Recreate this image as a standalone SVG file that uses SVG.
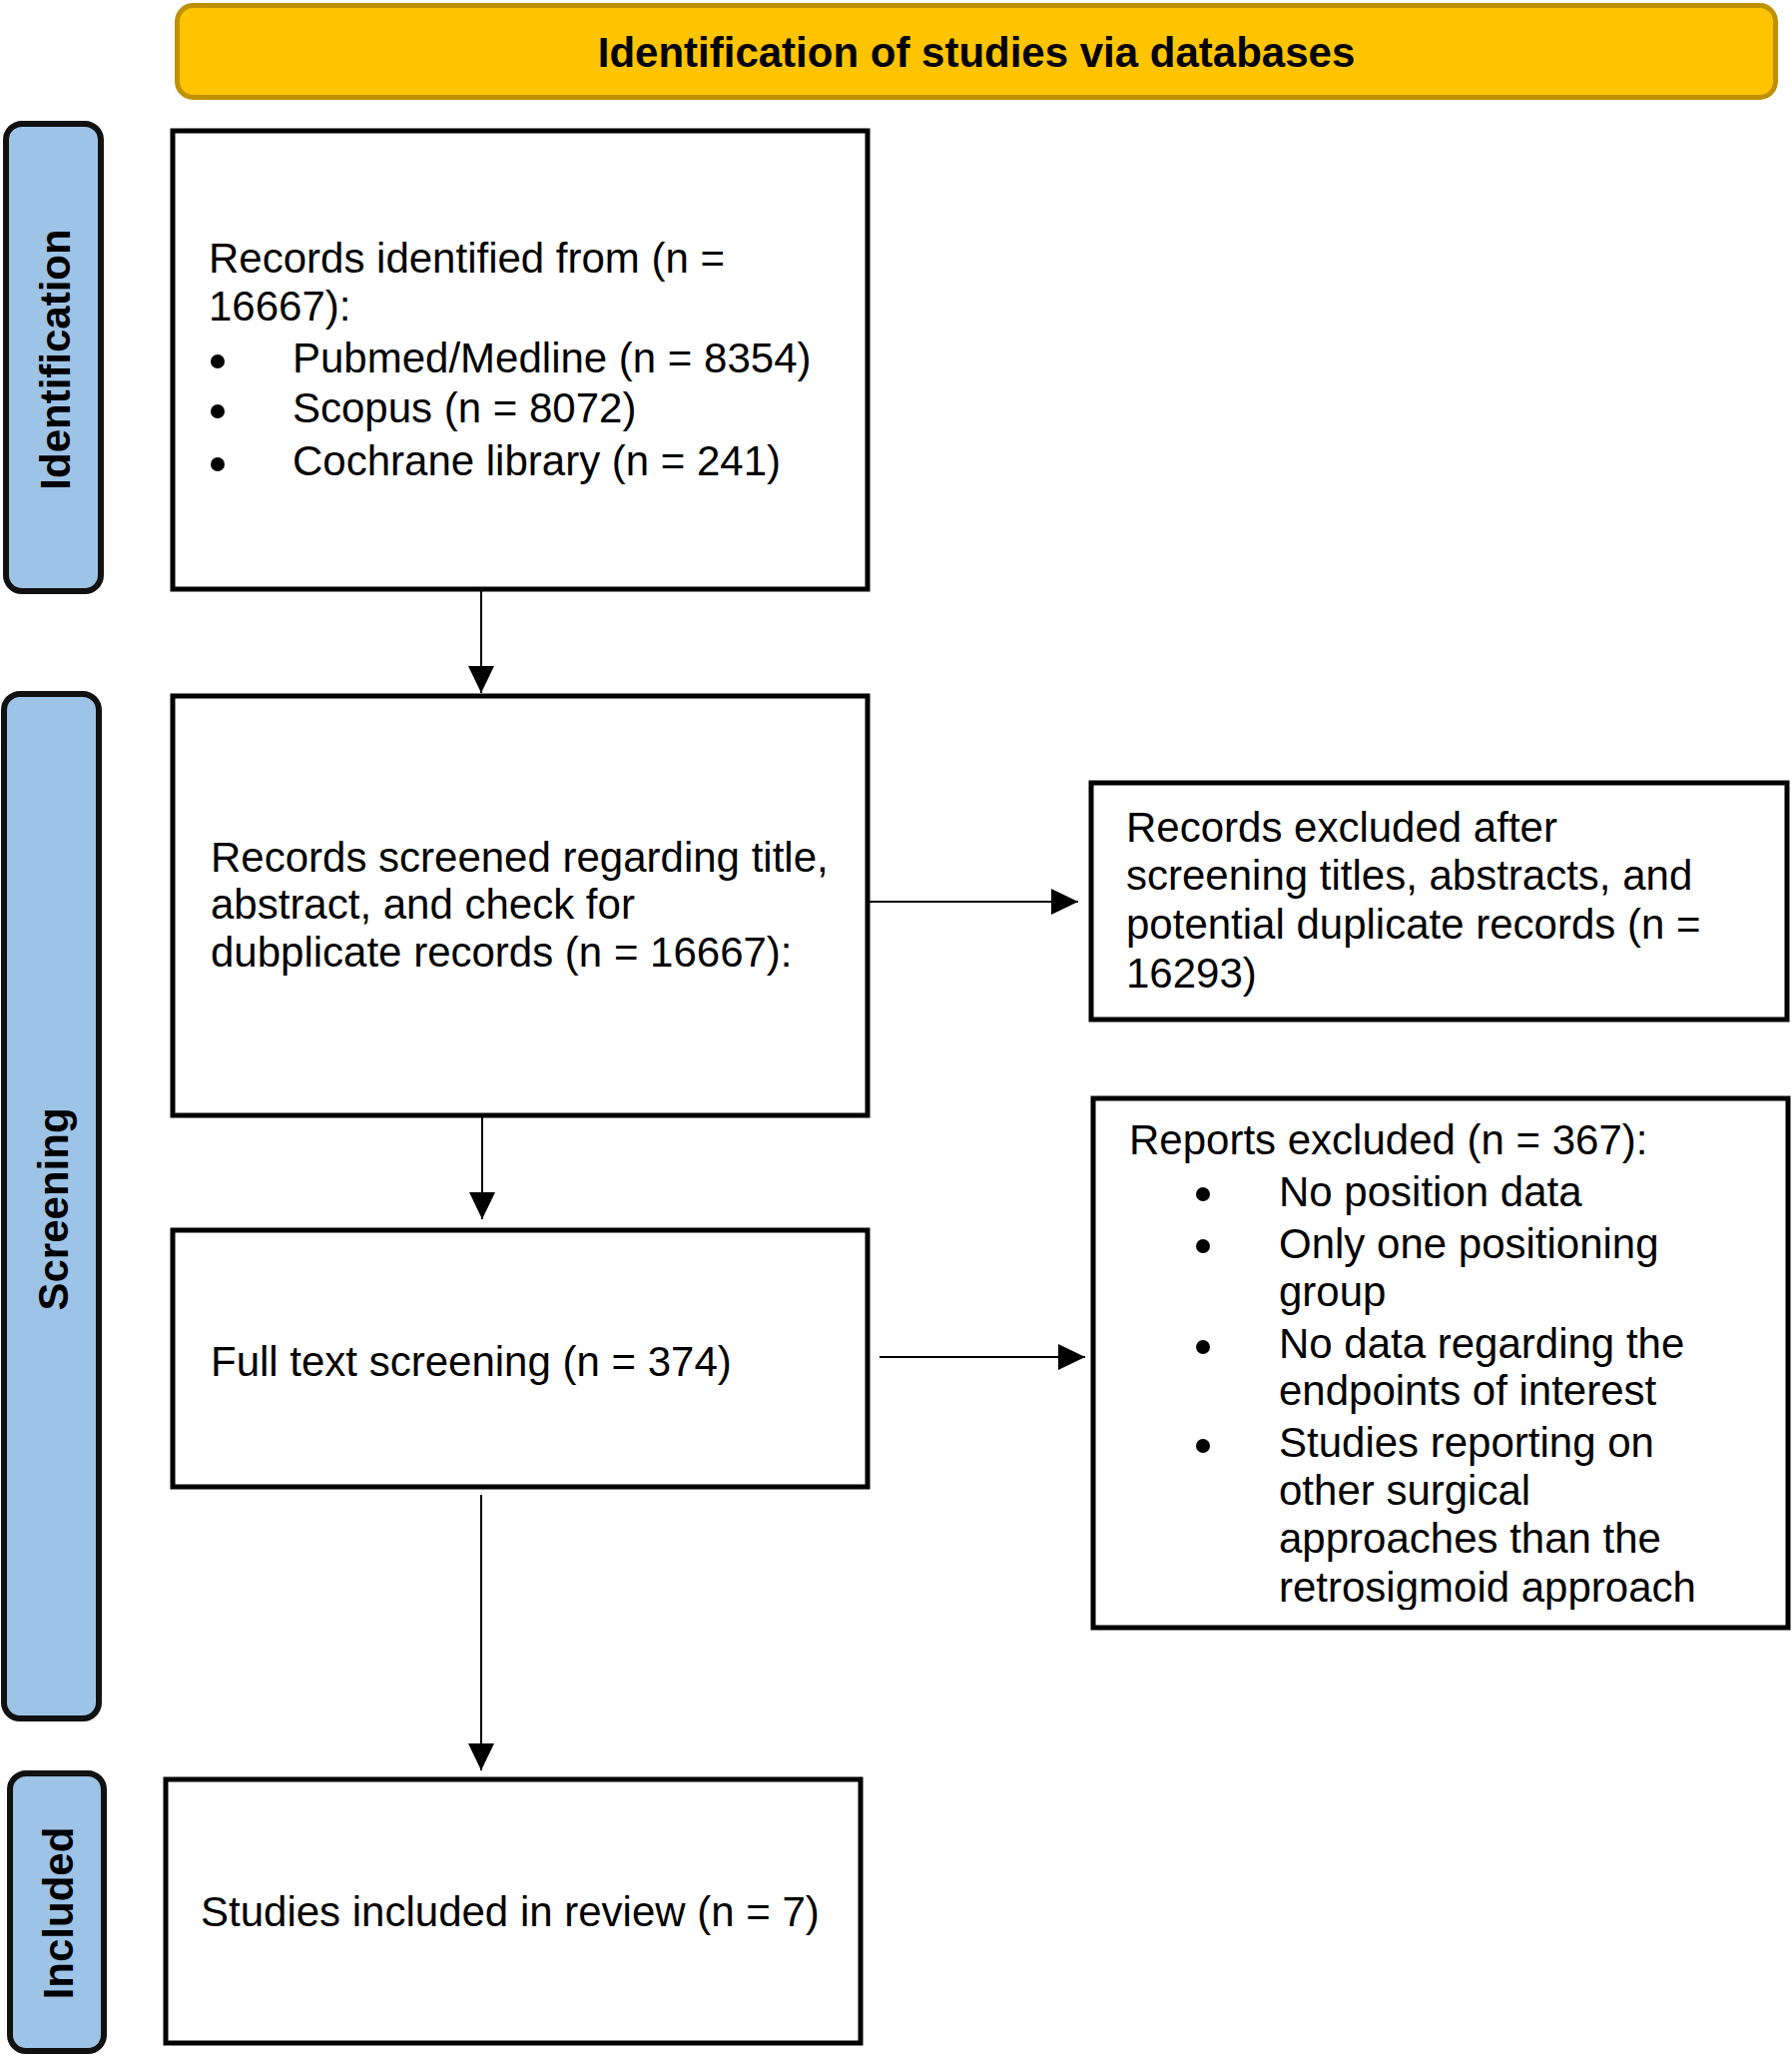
<svg xmlns="http://www.w3.org/2000/svg" width="1795" height="2059" viewBox="0 0 1795 2059">
<style>
.box{fill:#ffffff;stroke:#000000;stroke-width:5}
.side{fill:#9DC3E6;stroke:#111111;stroke-width:6}
.hdr{fill:#FFC400;stroke:#BF9000;stroke-width:5}
.t{font-family:"Liberation Sans",Arial,sans-serif;font-size:42px;fill:#000000}
.b{font-family:"Liberation Sans",Arial,sans-serif;font-size:42px;font-weight:bold;fill:#000000}
.c{stroke:#000000;stroke-width:2;fill:none}
.dot{fill:#000000}
</style>
<defs>
<marker id="ah2" viewBox="0 0 27 26" refX="27" refY="13" markerWidth="27" markerHeight="26" markerUnits="userSpaceOnUse" orient="auto">
<path d="M0,0 L27,13 L0,26 z" fill="#000000"/>
</marker>
<clipPath id="clipR2"><rect x="1095" y="1100" width="696" height="512"/></clipPath>
</defs>

<g id="header">
<rect class="hdr" x="177.5" y="5.5" width="1601" height="92" rx="16" ry="16"/>
<text class="b" x="978" y="67" text-anchor="middle">Identification of studies via databases</text>
</g>

<g id="side-identification">
<rect class="side" x="6" y="124" width="95" height="468" rx="16" ry="16"/>
<text class="b" transform="translate(70,360) rotate(-90)" text-anchor="middle">Identification</text>
</g>
<g id="side-screening">
<rect class="side" x="4" y="695" width="95" height="1026" rx="16" ry="16"/>
<text class="b" transform="translate(68,1211) rotate(-90)" text-anchor="middle">Screening</text>
</g>
<g id="side-included">
<rect class="side" x="10" y="1776" width="94" height="278" rx="16" ry="16"/>
<text class="b" transform="translate(73,1916) rotate(-90)" text-anchor="middle">Included</text>
</g>

<g id="records-identified">
<rect class="box" x="173" y="131" width="696" height="459"/>
<text class="t" x="209" y="273">Records identified from (n =</text>
<text class="t" x="209" y="321">16667):</text>
<circle class="dot" cx="218" cy="362" r="7"/>
<text class="t" x="293" y="373">Pubmed/Medline (n = 8354)</text>
<circle class="dot" cx="218" cy="412" r="7"/>
<text class="t" x="293" y="423">Scopus (n = 8072)</text>
<circle class="dot" cx="218" cy="465" r="7"/>
<text class="t" x="293" y="476">Cochrane library (n = 241)</text>
</g>

<g id="records-screened">
<rect class="box" x="173" y="697" width="696" height="420"/>
<text class="t" x="211" y="873">Records screened regarding title,</text>
<text class="t" x="211" y="920">abstract, and check for</text>
<text class="t" x="211" y="968">dubplicate records (n = 16667):</text>
</g>

<g id="full-text">
<rect class="box" x="173" y="1232" width="696" height="257"/>
<text class="t" x="211" y="1378">Full text screening (n = 374)</text>
</g>

<g id="included">
<rect class="box" x="166" y="1782" width="696" height="264"/>
<text class="t" x="201" y="1929">Studies included in review (n = 7)</text>
</g>

<g id="records-excluded">
<rect class="box" x="1093" y="784" width="697" height="237"/>
<text class="t" x="1128" y="843">Records excluded after</text>
<text class="t" x="1128" y="891">screening titles, abstracts, and</text>
<text class="t" x="1128" y="940">potential duplicate records (n =</text>
<text class="t" x="1128" y="989">16293)</text>
</g>

<g id="reports-excluded">
<rect class="box" x="1095" y="1100" width="696" height="530"/>
<g clip-path="url(#clipR2)">
<text class="t" x="1131" y="1156">Reports excluded (n = 367):</text>
<circle class="dot" cx="1205" cy="1196" r="7"/>
<text class="t" x="1281" y="1208">No position data</text>
<circle class="dot" cx="1205" cy="1248" r="7"/>
<text class="t" x="1281" y="1260">Only one positioning</text>
<text class="t" x="1281" y="1308">group</text>
<circle class="dot" cx="1205" cy="1349" r="7"/>
<text class="t" x="1281" y="1360">No data regarding the</text>
<text class="t" x="1281" y="1407">endpoints of interest</text>
<circle class="dot" cx="1205" cy="1448" r="7"/>
<text class="t" x="1281" y="1459">Studies reporting on</text>
<text class="t" x="1281" y="1507">other surgical</text>
<text class="t" x="1281" y="1555">approaches than the</text>
<text class="t" x="1281" y="1604">retrosigmoid approach</text>
</g>
</g>

<g id="connectors">
<line class="c" x1="482" y1="592" x2="482" y2="694" marker-end="url(#ah2)"/>
<line class="c" x1="483" y1="1119" x2="483" y2="1221" marker-end="url(#ah2)"/>
<line class="c" x1="482" y1="1497" x2="482" y2="1773" marker-end="url(#ah2)"/>
<line class="c" x1="871" y1="903" x2="1080" y2="903" marker-end="url(#ah2)"/>
<line class="c" x1="881" y1="1359" x2="1087" y2="1359" marker-end="url(#ah2)"/>
</g>
</svg>
